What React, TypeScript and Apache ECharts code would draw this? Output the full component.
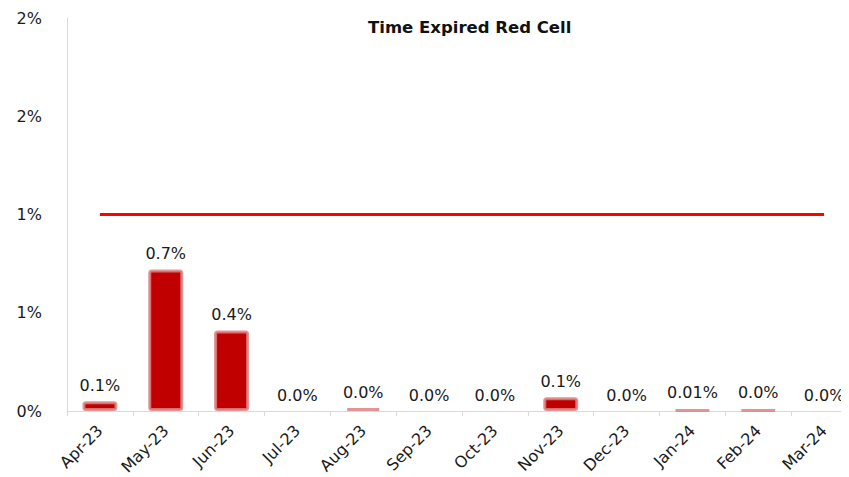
import React, { useEffect, useRef } from "react";
import * as echarts from "echarts";

const categories = ["Apr-23", "May-23", "Jun-23", "Jul-23", "Aug-23", "Sep-23", "Oct-23", "Nov-23", "Dec-23", "Jan-24", "Feb-24", "Mar-24"];
const values = [0.05, 0.72, 0.41, 0, 0.015, 0, 0, 0.07, 0, 0.006, 0.006, 0];
const valueLabels = ["0.1%", "0.7%", "0.4%", "0.0%", "0.0%", "0.0%", "0.0%", "0.1%", "0.0%", "0.01%", "0.0%", "0.0%"];
const targetValues = [1, 1, 1, 1, 1, 1, 1, 1, 1, 1, 1, 1];
const titleText = "Time Expired Red Cell";

const FONT = "'DejaVu Sans', Verdana, sans-serif";

export default function App() {
  const ref = useRef<HTMLDivElement>(null);
  useEffect(() => {
    if (!ref.current) return;
    const chart = echarts.init(ref.current, null, { renderer: "svg" });
    chart.setOption({
      animation: false,
      textStyle: { fontFamily: FONT },
      title: {
        text: titleText,
        left: 360,
        top: 11,
        padding: 0,
        textStyle: { fontFamily: FONT, fontSize: 16.5, fontWeight: "bold", color: "#111" },
      },
      grid: { left: 59, right: -15, top: 10, bottom: 74, containLabel: false },
      xAxis: {
        type: "category",
        data: categories,
        axisLine: { lineStyle: { color: "#d9d9d9", width: 1 } },
        axisTick: { show: true, alignWithLabel: false, length: 5, lineStyle: { color: "#d9d9d9" } },
        axisLabel: { rotate: 45, fontSize: 16, color: "#1a1a1a", fontFamily: FONT, margin: 17, interval: 0 },
      },
      yAxis: {
        type: "value",
        min: 0,
        max: 2,
        interval: 0.5,
        splitLine: { show: false },
        axisLine: { show: true, lineStyle: { color: "#d9d9d9", width: 1 } },
        axisTick: { show: false },
        axisLabel: {
          fontSize: 16,
          color: "#1a1a1a",
          fontFamily: FONT,
          margin: 25,
          formatter: (v: number) => Math.round(v) + "%",
        },
      },
      series: [
        {
          type: "bar",
          barWidth: 35,
          data: values.map((v) => ({
            value: v,
            itemStyle: v === 0 ? { borderWidth: 0 } : {},
          })),
          itemStyle: { color: "#C00000", borderColor: "rgba(220,130,130,0.85)", borderWidth: 3, borderRadius: 2 },
          label: {
            show: true,
            position: "top",
            distance: 8,
            fontSize: 16,
            color: "#1a1a1a",
            fontFamily: FONT,
            formatter: (p: any) => valueLabels[p.dataIndex],
          },
        },
        {
          type: "line",
          data: targetValues,
          symbol: "none",
          lineStyle: { color: "#FF0000", width: 3 },
          itemStyle: { color: "#FF0000" },
        },
      ],
    });
    return () => chart.dispose();
  }, []);
  return <div ref={ref} style={{ width: 849, height: 477 }} />;
}
